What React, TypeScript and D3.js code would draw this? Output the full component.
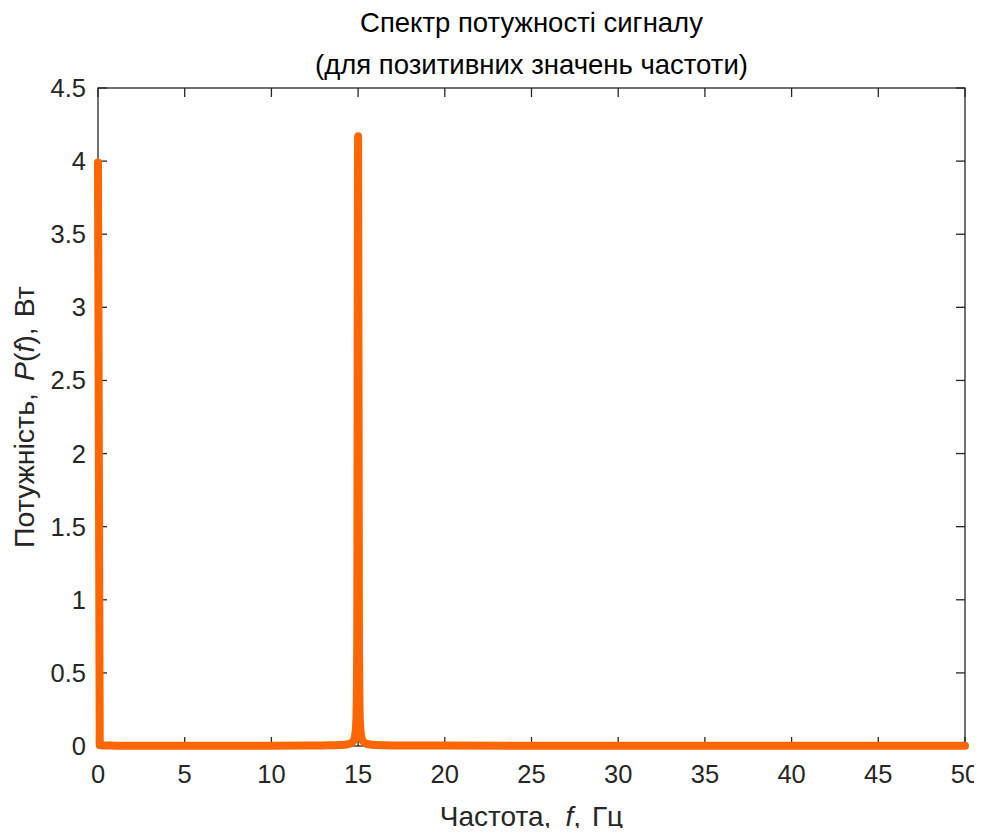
import React, { useEffect, useRef } from 'react';
import * as d3 from 'd3';

// frequency (Hz) and power (W)
const freqs = [0, 0.1, 0.3, 0.6, 1, 2, 4, 6, 8, 10, 12, 13, 14, 14.4, 14.6, 14.7, 14.8, 14.85, 14.9, 14.95, 15, 15.05, 15.1, 15.15, 15.2, 15.3, 15.4, 15.6, 16, 17, 20, 25, 30, 35, 40, 45, 50];
const power = [3.99, 0.006, 0.004, 0.003, 0.002, 0.002, 0.002, 0.002, 0.002, 0.002, 0.003, 0.004, 0.007, 0.012, 0.02, 0.03, 0.055, 0.09, 0.18, 0.75, 4.17, 0.75, 0.18, 0.09, 0.055, 0.03, 0.02, 0.012, 0.007, 0.004, 0.003, 0.002, 0.002, 0.002, 0.002, 0.002, 0.002];
const xTicks = [0, 5, 10, 15, 20, 25, 30, 35, 40, 45, 50];
const yTicks = [0, 0.5, 1, 1.5, 2, 2.5, 3, 3.5, 4, 4.5];

const App = () => {
  const ref = useRef<SVGSVGElement>(null);

  useEffect(() => {
    const width = 982;
    const height = 832;
    const m = { left: 98, right: 17, top: 88, bottom: 86 };
    const font = '"Liberation Sans", Arial, sans-serif';

    const svg = d3.select(ref.current);
    svg.selectAll('*').remove();
    svg.attr('width', width).attr('height', height).style('font-family', font);

    const x = d3.scaleLinear().domain([0, 50]).range([m.left, width - m.right]);
    const y = d3.scaleLinear().domain([0, 4.5]).range([height - m.bottom, m.top]);
    const tick = 9;

    const ax = svg.append('g').attr('stroke', '#262626').attr('stroke-width', 1.3);
    ax.append('rect')
      .attr('x', x(0)).attr('y', y(4.5))
      .attr('width', x(50) - x(0)).attr('height', y(0) - y(4.5))
      .attr('fill', 'none');

    xTicks.forEach((t) => {
      ax.append('line').attr('x1', x(t)).attr('x2', x(t)).attr('y1', y(0)).attr('y2', y(0) - tick);
      ax.append('line').attr('x1', x(t)).attr('x2', x(t)).attr('y1', y(4.5)).attr('y2', y(4.5) + tick);
      svg.append('text')
        .attr('x', x(t)).attr('y', y(0) + 37)
        .attr('text-anchor', 'middle').attr('font-size', 25.5).attr('fill', '#262626')
        .text(t);
    });
    yTicks.forEach((t) => {
      ax.append('line').attr('x1', x(0)).attr('x2', x(0) + tick).attr('y1', y(t)).attr('y2', y(t));
      ax.append('line').attr('x1', x(50)).attr('x2', x(50) - tick).attr('y1', y(t)).attr('y2', y(t));
      svg.append('text')
        .attr('x', x(0) - 12).attr('y', y(t) + 9)
        .attr('text-anchor', 'end').attr('font-size', 25.5).attr('fill', '#262626')
        .text(t);
    });

    const line = d3.line<number>()
      .x((d, i) => x(freqs[i]))
      .y((d) => y(d))
      .curve(d3.curveMonotoneX);

    svg.append('path')
      .datum(power)
      .attr('d', line)
      .attr('fill', 'none')
      .attr('stroke', '#ff6600')
      .attr('stroke-width', 8)
      .attr('stroke-linejoin', 'round')
      .attr('stroke-linecap', 'round');

    // title
    const title = svg.append('text')
      .attr('text-anchor', 'middle').attr('font-size', 27.5).attr('fill', '#000');
    title.append('tspan').attr('x', (x(0) + x(50)) / 2).attr('y', 32).text('Спектр потужності сигналу');
    title.append('tspan').attr('x', (x(0) + x(50)) / 2).attr('y', 74).text('(для позитивних значень частоти)');

    // x label
    const xl = svg.append('text')
      .attr('x', (x(0) + x(50)) / 2).attr('y', 826)
      .attr('text-anchor', 'middle').attr('font-size', 28).attr('fill', '#262626');
    xl.append('tspan').text('Частота,');
    xl.append('tspan').attr('dx', 14).attr('font-style', 'italic').text('f');
    xl.append('tspan').text(',');
    xl.append('tspan').attr('dx', 11).text('Гц');

    // y label
    const yl = svg.append('text')
      .attr('transform', `translate(34,${(y(0) + y(4.5)) / 2}) rotate(-90)`)
      .attr('text-anchor', 'middle').attr('font-size', 28.5).attr('fill', '#262626');
    yl.append('tspan').text('Потужність,');
    yl.append('tspan').attr('dx', 12).attr('font-style', 'italic').text('P');
    yl.append('tspan').text('(');
    yl.append('tspan').attr('font-style', 'italic').text('f');
    yl.append('tspan').text('),');
    yl.append('tspan').attr('dx', 10).text('Вт');
  }, []);

  return (
    <div style={{ margin: -8 }}>
      <svg ref={ref} />
    </div>
  );
};

export default App;
